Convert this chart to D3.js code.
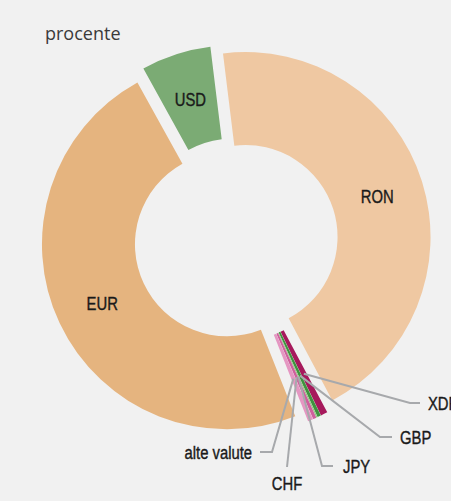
<!DOCTYPE html>
<html>
<head>
<meta charset="utf-8">
<script src="https://cdn.jsdelivr.net/npm/d3@7"></script>
<style>
  body { margin: 0; background: #f1f1f1; }
  svg { display: block; }
</style>
</head>
<body>
<svg id="chart" width="451" height="501"></svg>
<script>
// currency shares, percent (clockwise from top)
const categories = ["RON", "XDR", "GBP", "JPY", "CHF", "alte valute", "EUR", "USD"];
const values = [44.2, 0.6, 0.3, 0.1, 0.3, 0.45, 48.0, 6.1];
const colors = ["#efc8a2", "#a6195c", "#3f933f", "#8cc47a", "#cf5f9c", "#e597c2", "#e5b47f", "#7bab74"];
const unitLabel = "procente";

// layout
const cx = 236, cy = 240, R = 185, r0 = 92, explode = 10;
const start = -7 * Math.PI / 180;
const bigLabels = ["RON", "EUR", "USD"];
// callout elbows for the thin slices: [elbowX, elbowY, endX, textX, anchor]
const callouts = {
  "XDR": [410, 403, 420, 428, "start"],
  "GBP": [380, 437, 392, 400, "start"],
  "JPY": [322, 466, 333, 343, "start"],
  "CHF": [287, 467, 287, 287, "middle"],
  "alte valute": [272, 452, 260, 252, "end"]
};

const svg = d3.select("#chart");
svg.append("rect").attr("width", 451).attr("height", 501).attr("fill", "#f1f1f1");

svg.append("text")
  .attr("x", 45).attr("y", 40)
  .attr("font-family", "'Open Sans', 'Noto Sans', sans-serif")
  .attr("font-size", 18).attr("fill", "#3a3a3a")
  .text(unitLabel);

const pie = d3.pie().sort(null).value(d => d)
  .startAngle(start).endAngle(start + 2 * Math.PI);
const arcs = pie(values);
const arc = d3.arc().innerRadius(r0).outerRadius(R);

const g = svg.append("g").attr("transform", `translate(${cx},${cy})`);

function off(a, d) { return [d * Math.sin(a), -d * Math.cos(a)]; }

g.selectAll("path.slice")
  .data(arcs)
  .enter().append("path")
  .attr("class", "slice")
  .attr("fill", (d, i) => colors[i])
  .attr("d", arc)
  .attr("transform", d => {
    const m = (d.startAngle + d.endAngle) / 2;
    const o = off(m, explode);
    return `translate(${o[0]},${o[1]})`;
  });

const labelFont = "'Liberation Sans', Arial, sans-serif";
const sx = 0.78;

function label(sel, name) {
  sel.attr("font-family", labelFont)
    .attr("font-size", 19).attr("fill", "#1a1a1a")
    .attr("stroke", "#1a1a1a").attr("stroke-width", 0.4)
    .text(name);
}

// labels inside the big slices
arcs.forEach((d, i) => {
  const name = categories[i];
  if (bigLabels.indexOf(name) < 0) return;
  const a = (d.startAngle + d.endAngle) / 2;
  const p = off(a, 138 + explode);
  g.append("text")
    .attr("transform", `translate(${p[0]},${p[1] + 7}) scale(${sx},1)`)
    .attr("text-anchor", "middle")
    .call(label, name);
});

// callouts for the thin slices
arcs.forEach((d, i) => {
  const name = categories[i];
  const c = callouts[name];
  if (!c) return;
  const m = (d.startAngle + d.endAngle) / 2;
  const p = off(m, 140 + explode);
  const x0 = cx + p[0], y0 = cy + p[1];
  const pts = name === "CHF" ? [[x0, y0], [c[0], c[1]]] : [[x0, y0], [c[0], c[1]], [c[2], c[1]]];
  svg.append("path")
    .attr("d", d3.line()(pts))
    .attr("fill", "none").attr("stroke", "#a7a9ac").attr("stroke-width", 2);
  const ty = name === "CHF" ? c[1] + 23 : c[1] + 7;
  svg.append("text")
    .attr("transform", `translate(${c[3]},${ty}) scale(${sx},1)`)
    .attr("text-anchor", c[4])
    .call(label, name);
});
</script>
</body>
</html>
